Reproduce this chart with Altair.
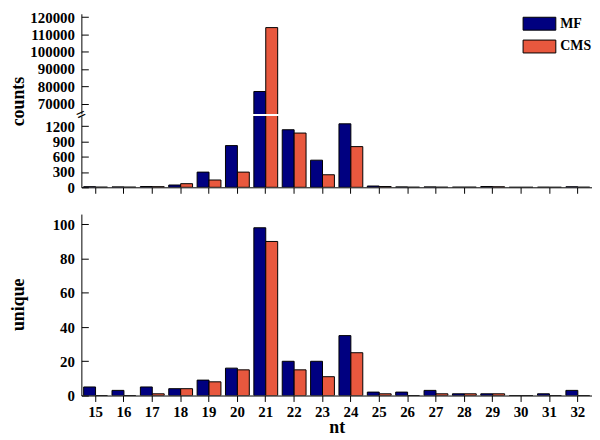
import altair as alt
import pandas as pd

nt = list(range(15, 33))
series = ["MF", "CMS"]
counts_mf = [12, 8, 15, 45, 298, 818, 77000, 1129, 532, 1245, 25, 8, 8, 3, 15, 0, 2, 10]
counts_cms = [3, 3, 12, 71, 143, 298, 114000, 1064, 246, 798, 15, 2, 2, 3, 10, 0, 0, 2]
unique_mf = [5, 3, 5, 4, 9, 16, 98, 20, 20, 35, 2, 2, 3, 1, 1, 0, 1, 3]
unique_cms = [0, 0, 1, 4, 8, 15, 90, 15, 11, 25, 1, 0, 1, 1, 1, 0, 0, 0]
colors = ["#000080", "#E8583E"]

rows = []
for i, n in enumerate(nt):
    rows.append({"nt": n, "series": "MF", "counts": counts_mf[i], "unique": unique_mf[i]})
    rows.append({"nt": n, "series": "CMS", "counts": counts_cms[i], "unique": unique_cms[i]})
df = pd.DataFrame(rows)

FONT = "Liberation Serif"
W = 515

xscale = alt.Scale(paddingInner=0.16, paddingOuter=0.08)
legend = alt.Legend(
    title=None, orient="none", legendX=455, legendY=3,
    symbolType="M-2.54,-1H2.54V1H-2.54Z", symbolSize=169,
    symbolStrokeColor="black", symbolStrokeWidth=1, symbolOpacity=1,
    labelFont=FONT, labelFontSize=14, labelFontWeight="bold", labelColor="black",
    rowPadding=5, labelOffset=14, padding=0,
)
color = alt.Color("series:N", scale=alt.Scale(domain=series, range=colors), legend=legend)
xoff = alt.XOffset("series:N", sort=series)


def yaxis(values, title=None, title_y=0, fmt="d"):
    kw = dict(
        orient="right", offset=-W, values=values, format=fmt,
        tickSize=7, labelPadding=-14, labelAlign="right",
        labelFont=FONT, labelFontSize=15, labelFontWeight="bold",
        labelOverlap=False, grid=False,
    )
    if title:
        kw.update(title=title, titleX=-63, titleY=title_y, titleAngle=270,
                  titleBaseline="middle", titleAlign="center")
    else:
        kw.update(title=None)
    return alt.Axis(**kw)


bar = alt.Chart(df).mark_bar(stroke="black", strokeWidth=1, clip=True, opacity=1)

upper = bar.encode(
    x=alt.X("nt:O", scale=xscale, axis=None),
    xOffset=xoff,
    y=alt.Y("counts:Q", scale=alt.Scale(domain=[64000, 122000], nice=False, zero=False),
            axis=yaxis(list(range(70000, 120001, 10000)), "counts", 88)),
    color=color,
).properties(width=W, height=101)

lower_bars = bar.encode(
    x=alt.X("nt:O", scale=xscale,
            axis=alt.Axis(labels=False, title=None, tickSize=6, grid=False)),
    xOffset=xoff,
    y=alt.Y("counts:Q", scale=alt.Scale(domain=[0, 1400], nice=False),
            axis=yaxis([0, 300, 600, 900, 1200])),
    color=color,
)
# axis-break symbol on the y axis
break_mark = alt.Chart(pd.DataFrame({"sym": ["="]})).mark_text(
    font=FONT, fontSize=17, fontWeight="bold", color="black", angle=335,
    baseline="middle", align="center",
).encode(text="sym:N", x=alt.value(0), y=alt.value(-1))
lower = alt.layer(lower_bars, break_mark).properties(width=W, height=72)

bottom = bar.encode(
    x=alt.X("nt:O", scale=xscale,
            axis=alt.Axis(title="nt", labelAngle=0, tickSize=6, labelPadding=3,
                          labelFont=FONT, labelFontSize=15, labelFontWeight="bold",
                          titlePadding=-1, grid=False)),
    xOffset=xoff,
    y=alt.Y("unique:Q", scale=alt.Scale(domain=[0, 106], nice=False),
            axis=yaxis([0, 20, 40, 60, 80, 100], "unique", 91)),
    color=color,
).properties(width=W, height=183)

top = alt.vconcat(upper, lower, spacing=2, bounds="flush")
chart = alt.vconcat(top, bottom, spacing=19).properties(
    padding={"left": 2, "top": 0, "right": 0, "bottom": 0}
).configure_view(
    stroke=None
).configure_axis(
    domainColor="black", tickColor="black", labelColor="black", titleColor="black",
    labelFont=FONT, labelFontSize=15, labelFontWeight="bold",
    titleFont=FONT, titleFontSize=18, titleFontWeight="bold",
    domainWidth=1, tickWidth=1,
)

chart.save("out.html", embed_options={"renderer": "svg", "actions": False})
